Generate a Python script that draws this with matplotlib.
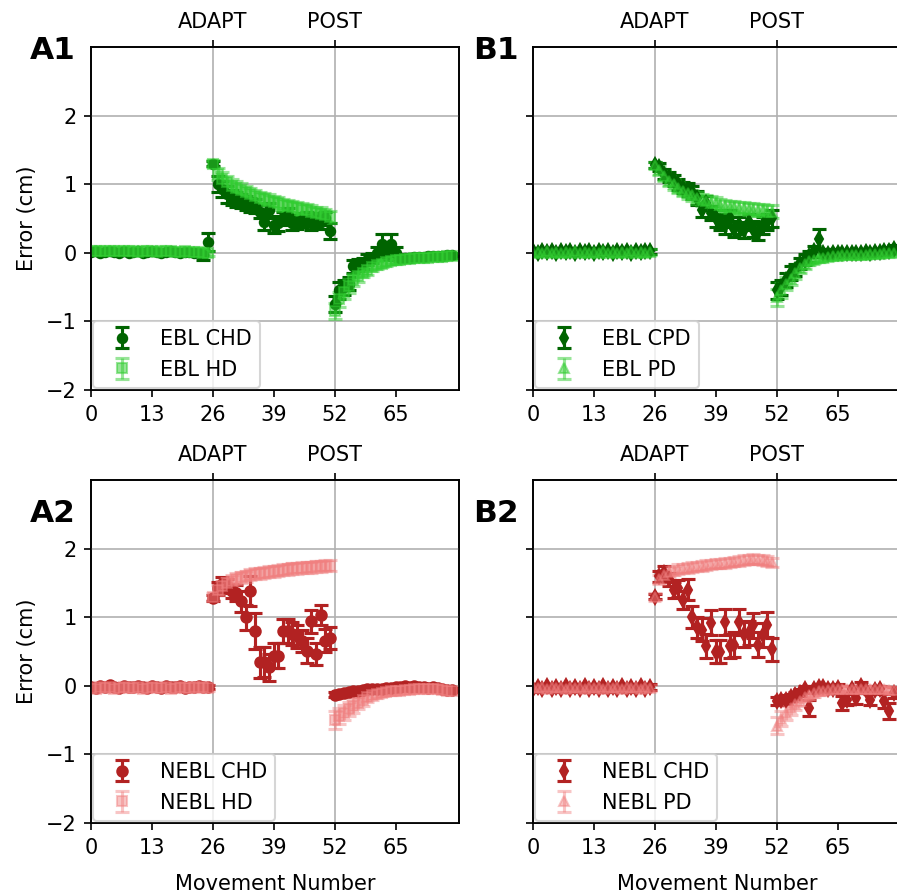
import numpy as np
import matplotlib.pyplot as plt

plt.rcParams['font.size'] = 10

moves = np.arange(78)
xticks = [0, 13, 26, 39, 52, 65]
phase_ticks = [26, 52]
phase_labels = ['ADAPT', 'POST']

# EBL, children (CHD) vs healthy adults (HD)
ebl_chd = [0.01, 0.02, 0.00, 0.01, 0.02, 0.01, -0.01, 0.03, 0.00, 0.01, 0.02, 0.00, 0.01,
           0.02, 0.01, 0.00, 0.01, 0.02, 0.01, 0.00, 0.01, 0.01, 0.00, 0.00, -0.03, 0.16,
           1.30, 1.00, 0.93, 0.85, 0.80, 0.78, 0.75, 0.72, 0.70, 0.68, 0.60, 0.45, 0.62,
           0.40, 0.43, 0.50, 0.55, 0.43, 0.45, 0.48, 0.50, 0.43, 0.48, 0.45, 0.50, 0.32,
           -0.75, -0.55, -0.50, -0.45, -0.20, -0.18, -0.15, -0.10, -0.08, 0.00, 0.13, -0.03,
           0.13, 0.00, -0.08, -0.07, -0.07, -0.06, -0.06, -0.06, -0.05, -0.05, -0.05, -0.05,
           -0.04, -0.04]
ebl_chd_err = [0.03, 0.03, 0.03, 0.03, 0.03, 0.03, 0.03, 0.03, 0.03, 0.03, 0.03, 0.03, 0.03,
               0.03, 0.03, 0.03, 0.03, 0.03, 0.03, 0.03, 0.03, 0.03, 0.03, 0.03, 0.07, 0.13,
               0.04, 0.12, 0.12, 0.12, 0.11, 0.11, 0.10, 0.10, 0.10, 0.10, 0.10, 0.12, 0.10,
               0.11, 0.11, 0.10, 0.10, 0.10, 0.10, 0.10, 0.10, 0.10, 0.10, 0.10, 0.10, 0.12,
               0.12, 0.12, 0.11, 0.10, 0.10, 0.09, 0.08, 0.08, 0.07, 0.08, 0.15, 0.08,
               0.15, 0.08, 0.04, 0.03, 0.03, 0.03, 0.03, 0.03, 0.03, 0.03, 0.03, 0.03,
               0.03, 0.03]
ebl_hd = [0.03, 0.02, 0.03, 0.02, 0.02, 0.03, 0.02, 0.02, 0.03, 0.02, 0.01, 0.02, 0.02,
          0.02, 0.01, 0.02, 0.02, 0.02, 0.01, 0.01, 0.02, 0.01, 0.01, 0.01, 0.00, -0.01,
          1.30, 1.15, 1.08, 1.03, 0.98, 0.95, 0.92, 0.88, 0.85, 0.82, 0.80, 0.78, 0.76,
          0.74, 0.72, 0.70, 0.68, 0.66, 0.65, 0.63, 0.62, 0.60, 0.58, 0.57, 0.55, 0.52,
          -0.85, -0.68, -0.57, -0.48, -0.40, -0.34, -0.29, -0.25, -0.21, -0.18, -0.16, -0.14,
          -0.12, -0.11, -0.10, -0.09, -0.09, -0.08, -0.08, -0.07, -0.07, -0.06, -0.06, -0.06,
          -0.05, -0.05]
ebl_hd_err = [0.04, 0.04, 0.04, 0.04, 0.04, 0.04, 0.04, 0.04, 0.04, 0.04, 0.04, 0.04, 0.04,
              0.04, 0.04, 0.04, 0.04, 0.04, 0.04, 0.04, 0.04, 0.04, 0.04, 0.04, 0.04, 0.04,
              0.05, 0.09, 0.09, 0.09, 0.09, 0.09, 0.09, 0.09, 0.09, 0.09, 0.09, 0.09, 0.09,
              0.09, 0.09, 0.09, 0.09, 0.09, 0.09, 0.09, 0.09, 0.09, 0.09, 0.09, 0.09, 0.09,
              0.12, 0.11, 0.10, 0.10, 0.09, 0.08, 0.07, 0.07, 0.06, 0.06, 0.05, 0.05,
              0.05, 0.05, 0.04, 0.04, 0.04, 0.04, 0.04, 0.04, 0.04, 0.04, 0.04, 0.04,
              0.04, 0.04]

# EBL, children (CPD) vs adults (PD)
ebl_cpd = [0.02, 0.00, 0.03, 0.01, 0.03, 0.00, 0.02, 0.01, 0.03, 0.00, 0.02, 0.01, 0.03,
           0.00, 0.02, 0.01, 0.03, 0.00, 0.02, 0.01, 0.03, 0.00, 0.02, 0.01, 0.03, 0.02,
           1.28, 1.25, 1.15, 1.10, 1.05, 1.00, 0.95, 0.92, 0.88, 0.80, 0.62, 0.72, 0.58,
           0.50, 0.45, 0.40, 0.50, 0.35, 0.40, 0.33, 0.45, 0.35, 0.30, 0.40, 0.45, 0.50,
           -0.55, -0.50, -0.40, -0.30, -0.25, -0.15, -0.10, -0.05, 0.02, 0.20, 0.00, -0.02,
           0.00, -0.01, -0.01, 0.00, -0.01, 0.00, 0.00, 0.01, 0.00, 0.01, 0.01, 0.02,
           0.03, 0.05]
ebl_cpd_err = [0.04, 0.04, 0.04, 0.04, 0.04, 0.04, 0.04, 0.04, 0.04, 0.04, 0.04, 0.04, 0.04,
               0.04, 0.04, 0.04, 0.04, 0.04, 0.04, 0.04, 0.04, 0.04, 0.04, 0.04, 0.04, 0.04,
               0.04, 0.06, 0.07, 0.07, 0.08, 0.08, 0.08, 0.09, 0.09, 0.10, 0.10, 0.10, 0.10,
               0.12, 0.12, 0.12, 0.12, 0.12, 0.12, 0.12, 0.12, 0.12, 0.12, 0.12, 0.12, 0.12,
               0.12, 0.11, 0.10, 0.10, 0.09, 0.08, 0.08, 0.08, 0.08, 0.15, 0.06, 0.05,
               0.05, 0.04, 0.04, 0.04, 0.04, 0.04, 0.04, 0.04, 0.04, 0.04, 0.04, 0.05,
               0.05, 0.06]
ebl_pd = [-0.01, 0.01, 0.00, 0.02, 0.00, 0.01, -0.01, 0.01, 0.00, 0.02, 0.00, 0.01, -0.01,
          0.01, 0.00, 0.02, 0.00, 0.01, -0.01, 0.01, 0.00, 0.02, 0.00, 0.01, 0.00, 0.01,
          1.28, 1.20, 1.12, 1.05, 1.00, 0.95, 0.90, 0.87, 0.84, 0.80, 0.77, 0.75, 0.73,
          0.72, 0.70, 0.68, 0.67, 0.66, 0.65, 0.65, 0.64, 0.63, 0.62, 0.62, 0.60, 0.60,
          -0.65, -0.55, -0.45, -0.38, -0.30, -0.22, -0.17, -0.12, -0.10, -0.08, -0.07, -0.06,
          -0.05, -0.05, -0.04, -0.04, -0.04, -0.03, -0.03, -0.03, -0.02, -0.02, -0.02, -0.01,
          -0.01, 0.00]
ebl_pd_err = [0.04, 0.04, 0.04, 0.04, 0.04, 0.04, 0.04, 0.04, 0.04, 0.04, 0.04, 0.04, 0.04,
              0.04, 0.04, 0.04, 0.04, 0.04, 0.04, 0.04, 0.04, 0.04, 0.04, 0.04, 0.04, 0.04,
              0.04, 0.06, 0.07, 0.07, 0.08, 0.08, 0.08, 0.08, 0.08, 0.09, 0.09, 0.09, 0.09,
              0.09, 0.09, 0.09, 0.09, 0.09, 0.09, 0.09, 0.09, 0.09, 0.09, 0.09, 0.09, 0.09,
              0.12, 0.11, 0.10, 0.09, 0.08, 0.07, 0.06, 0.06, 0.05, 0.05, 0.04, 0.04,
              0.04, 0.04, 0.04, 0.04, 0.04, 0.04, 0.04, 0.04, 0.04, 0.04, 0.04, 0.04,
              0.04, 0.04]

# NEBL, children (CHD) vs healthy adults (HD)
nebl_chd_a = [-0.02, -0.03, -0.01, -0.02, 0.01, -0.02, -0.03, -0.01, -0.02, -0.02, 0.00, -0.02, -0.03,
              -0.01, -0.02, -0.03, -0.01, -0.02, -0.02, -0.01, -0.03, -0.02, -0.02, -0.01, -0.02, -0.02,
              1.28, 1.42, 1.48, 1.45, 1.38, 1.35, 1.23, 1.00, 1.38, 0.80, 0.34, 0.35, 0.27,
              0.44, 0.44, 0.80, 0.80, 0.76, 0.72, 0.66, 0.51, 0.94, 0.46, 1.03, 0.66, 0.69,
              -0.13, -0.12, -0.10, -0.09, -0.08, -0.07, -0.06, -0.05, -0.05, -0.04, -0.04, -0.03,
              -0.03, -0.02, -0.02, -0.01, -0.02, -0.01, -0.02, -0.02, -0.03, -0.02, -0.03, -0.05,
              -0.06, -0.06]
nebl_chd_a_err = [0.03, 0.03, 0.03, 0.03, 0.03, 0.03, 0.03, 0.03, 0.03, 0.03, 0.03, 0.03, 0.03,
                  0.03, 0.03, 0.03, 0.03, 0.03, 0.03, 0.03, 0.03, 0.03, 0.03, 0.03, 0.03, 0.03,
                  0.05, 0.10, 0.10, 0.10, 0.10, 0.12, 0.15, 0.18, 0.22, 0.26, 0.22, 0.22, 0.20,
                  0.18, 0.18, 0.18, 0.17, 0.17, 0.17, 0.16, 0.18, 0.17, 0.16, 0.15, 0.17, 0.16,
                  0.04, 0.04, 0.04, 0.03, 0.03, 0.03, 0.03, 0.03, 0.03, 0.03, 0.03, 0.03,
                  0.03, 0.03, 0.03, 0.03, 0.03, 0.03, 0.03, 0.03, 0.03, 0.03, 0.03, 0.03,
                  0.03, 0.03]
nebl_hd = [-0.03, -0.04, -0.02, -0.03, -0.02, -0.04, -0.03, -0.02, -0.03, -0.03, -0.02, -0.04, -0.03,
           -0.02, -0.03, -0.03, -0.02, -0.04, -0.03, -0.02, -0.03, -0.03, -0.02, -0.03, -0.02, -0.03,
           1.30, 1.40, 1.46, 1.50, 1.53, 1.56, 1.58, 1.60, 1.62, 1.63, 1.64, 1.65, 1.66,
           1.67, 1.68, 1.69, 1.70, 1.71, 1.71, 1.72, 1.73, 1.73, 1.74, 1.74, 1.75, 1.75,
           -0.50, -0.44, -0.39, -0.34, -0.29, -0.25, -0.21, -0.17, -0.14, -0.12, -0.10, -0.09,
           -0.08, -0.07, -0.07, -0.06, -0.06, -0.05, -0.05, -0.05, -0.05, -0.05, -0.05, -0.06,
           -0.07, -0.08]
nebl_hd_err = [0.04, 0.04, 0.04, 0.04, 0.04, 0.04, 0.04, 0.04, 0.04, 0.04, 0.04, 0.04, 0.04,
               0.04, 0.04, 0.04, 0.04, 0.04, 0.04, 0.04, 0.04, 0.04, 0.04, 0.04, 0.04, 0.04,
               0.05, 0.07, 0.07, 0.07, 0.08, 0.08, 0.08, 0.08, 0.08, 0.08, 0.08, 0.08, 0.08,
               0.08, 0.08, 0.08, 0.08, 0.08, 0.08, 0.08, 0.08, 0.08, 0.08, 0.08, 0.08, 0.08,
               0.13, 0.12, 0.11, 0.10, 0.10, 0.09, 0.08, 0.07, 0.06, 0.06, 0.05, 0.05,
               0.05, 0.05, 0.04, 0.04, 0.04, 0.04, 0.04, 0.04, 0.04, 0.04, 0.04, 0.04,
               0.04, 0.04]

# NEBL, children (CHD) vs adults (PD)
nebl_chd_b = [-0.05, -0.02, -0.04, -0.01, -0.05, -0.02, -0.04, -0.01, -0.05, -0.02, -0.04, -0.01, -0.05,
              -0.02, -0.04, -0.01, -0.05, -0.02, -0.04, -0.01, -0.05, -0.02, -0.04, -0.01, -0.04, -0.02,
              1.30, 1.60, 1.65, 1.55, 1.40, 1.42, 1.25, 1.40, 1.00, 0.85, 0.82, 0.58, 0.92,
              0.50, 0.50, 0.93, 0.58, 0.60, 0.93, 0.75, 0.77, 0.88, 0.60, 0.74, 0.89, 0.53,
              -0.22, -0.21, -0.20, -0.17, -0.14, -0.10, -0.05, -0.32, -0.05, -0.02, -0.02, -0.04,
              -0.05, -0.03, -0.25, -0.20, -0.05, -0.18, 0.00, -0.06, -0.20, -0.06, -0.05, -0.22,
              -0.37, -0.10]
nebl_chd_b_err = [0.04, 0.04, 0.04, 0.04, 0.04, 0.04, 0.04, 0.04, 0.04, 0.04, 0.04, 0.04, 0.04,
                  0.04, 0.04, 0.04, 0.04, 0.04, 0.04, 0.04, 0.04, 0.04, 0.04, 0.04, 0.04, 0.04,
                  0.04, 0.08, 0.10, 0.10, 0.12, 0.12, 0.13, 0.15, 0.16, 0.16, 0.17, 0.18, 0.18,
                  0.17, 0.17, 0.19, 0.18, 0.18, 0.19, 0.18, 0.18, 0.18, 0.18, 0.17, 0.18, 0.17,
                  0.06, 0.06, 0.06, 0.05, 0.05, 0.05, 0.05, 0.12, 0.05, 0.05, 0.05, 0.05,
                  0.05, 0.05, 0.10, 0.08, 0.05, 0.08, 0.06, 0.05, 0.08, 0.05, 0.05, 0.10,
                  0.12, 0.08]
nebl_pd = [-0.02, -0.03, -0.02, -0.04, -0.02, -0.03, -0.02, -0.04, -0.02, -0.03, -0.02, -0.04, -0.02,
           -0.03, -0.02, -0.04, -0.02, -0.03, -0.02, -0.04, -0.02, -0.03, -0.02, -0.04, -0.02, -0.03,
           1.30, 1.55, 1.62, 1.66, 1.68, 1.70, 1.71, 1.72, 1.73, 1.74, 1.75, 1.76, 1.77,
           1.78, 1.78, 1.79, 1.80, 1.81, 1.82, 1.83, 1.84, 1.85, 1.84, 1.83, 1.82, 1.80,
           -0.58, -0.48, -0.40, -0.33, -0.27, -0.22, -0.17, -0.13, -0.10, -0.08, -0.07, -0.06,
           -0.05, -0.05, -0.04, -0.04, -0.04, -0.05, -0.04, -0.04, -0.05, -0.05, -0.05, -0.05,
           -0.06, -0.06]
nebl_pd_err = [0.04, 0.04, 0.04, 0.04, 0.04, 0.04, 0.04, 0.04, 0.04, 0.04, 0.04, 0.04, 0.04,
               0.04, 0.04, 0.04, 0.04, 0.04, 0.04, 0.04, 0.04, 0.04, 0.04, 0.04, 0.04, 0.04,
               0.05, 0.07, 0.07, 0.07, 0.07, 0.07, 0.07, 0.07, 0.07, 0.07, 0.07, 0.07, 0.07,
               0.07, 0.07, 0.07, 0.07, 0.07, 0.07, 0.07, 0.07, 0.07, 0.07, 0.07, 0.07, 0.07,
               0.12, 0.11, 0.10, 0.09, 0.08, 0.08, 0.07, 0.06, 0.06, 0.05, 0.05, 0.05,
               0.04, 0.04, 0.04, 0.04, 0.04, 0.04, 0.04, 0.04, 0.04, 0.04, 0.04, 0.04,
               0.04, 0.04]


def draw_panel(ax, dark, dark_err, light, light_err, dark_style, light_style, labels):
    ax.errorbar(moves, dark, yerr=dark_err, linestyle='none', capsize=3.5,
                elinewidth=1.5, capthick=1.5, label=labels[0], **dark_style)
    ax.errorbar(moves, light, yerr=light_err, linestyle='none', capsize=3.5,
                elinewidth=1.5, capthick=1.5, label=labels[1], **light_style)
    ax.set_xlim(0, 78.5)
    ax.set_ylim(-2, 3)
    ax.set_xticks(xticks)
    ax.set_yticks([-2, -1, 0, 1, 2])
    ax.yaxis.grid(True)
    ax.legend(loc='lower left', borderaxespad=0.1)

    # phase markers on top, grid drawn underneath the data
    top = ax.twiny()
    top.set_xlim(ax.get_xlim())
    top.set_xticks(phase_ticks)
    top.set_xticklabels(phase_labels)
    top.xaxis.grid(True)
    ax.set_zorder(top.get_zorder() + 1)
    ax.patch.set_visible(False)


fig = plt.figure(figsize=(5.98, 5.96), dpi=150)
w, h = 0.410, 0.3837
ax_a1 = fig.add_axes([0.1015, 0.5638, w, h])
ax_b1 = fig.add_axes([0.5942, 0.5638, w, h])
ax_a2 = fig.add_axes([0.1015, 0.0794, w, h])
ax_b2 = fig.add_axes([0.5942, 0.0794, w, h])

green_dark = dict(fmt='o', color='darkgreen', markersize=4.5)
green_sq = dict(fmt='s', color='limegreen', alpha=0.5, markersize=4.5)
green_dia = dict(fmt='d', color='darkgreen', markersize=5)
green_tri = dict(fmt='^', color='limegreen', alpha=0.5, markersize=4.5)
red_dark = dict(fmt='o', color='firebrick', markersize=5)
red_sq = dict(fmt='s', color='lightcoral', alpha=0.45, markersize=4.5)
red_dia = dict(fmt='d', color='firebrick', markersize=5)
red_tri = dict(fmt='^', color='lightcoral', alpha=0.45, markersize=4.5)

draw_panel(ax_a1, ebl_chd, ebl_chd_err, ebl_hd, ebl_hd_err, green_dark, green_sq,
           ['EBL CHD', 'EBL HD'])
draw_panel(ax_b1, ebl_cpd, ebl_cpd_err, ebl_pd, ebl_pd_err, green_dia, green_tri,
           ['EBL CPD', 'EBL PD'])
draw_panel(ax_a2, nebl_chd_a, nebl_chd_a_err, nebl_hd, nebl_hd_err, red_dark, red_sq,
           ['NEBL CHD', 'NEBL HD'])
draw_panel(ax_b2, nebl_chd_b, nebl_chd_b_err, nebl_pd, nebl_pd_err, red_dia, red_tri,
           ['NEBL CHD', 'NEBL PD'])

for ax in (ax_a1, ax_a2):
    ax.set_ylabel('Error (cm)')
for ax in (ax_b1, ax_b2):
    ax.tick_params(labelleft=False)
for ax in (ax_a2, ax_b2):
    ax.set_xlabel('Movement Number', labelpad=8)

for label, x, y in [('A1', 0.033, 0.944), ('B1', 0.528, 0.944),
                    ('A2', 0.033, 0.426), ('B2', 0.528, 0.426)]:
    fig.text(x, y, label, fontsize=15, fontweight='bold', va='center')

fig.savefig('out.png', dpi=150)
